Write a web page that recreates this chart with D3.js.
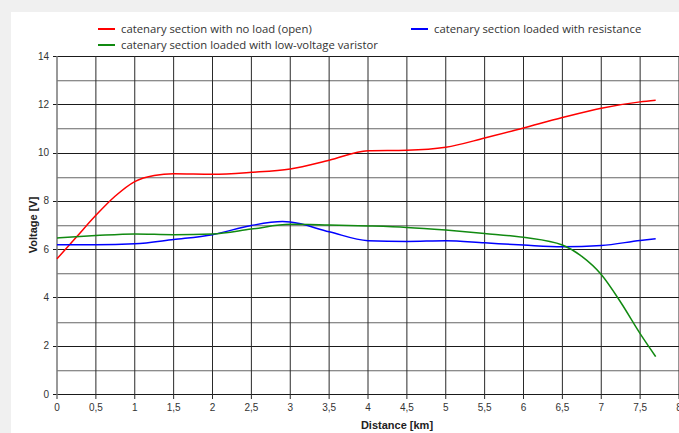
<!DOCTYPE html>
<html>
<head>
<meta charset="utf-8">
<script src="https://d3js.org/d3.v7.min.js"></script>
<style>
  body { margin: 0; background: #f0f0f0; }
  svg { display: block; }
</style>
</head>
<body>
<script>
// open catenary section (red)
var openDist = [0, 0.25, 0.5, 0.75, 1, 1.25, 1.5, 2, 2.5, 3, 3.5, 4, 4.5, 5, 5.5, 6, 6.5, 7, 7.5, 7.7];
var openVolt = [5.6, 6.5, 7.4, 8.2, 8.8, 9.05, 9.12, 9.1, 9.18, 9.32, 9.68, 10.08, 10.1, 10.22, 10.6, 11.02, 11.45, 11.84, 12.1, 12.17];

// loaded with resistance (blue)
var resDist = [0, 0.5, 1, 1.5, 2, 2.5, 2.9, 3, 3.5, 4, 4.5, 5, 5.5, 6, 6.5, 7, 7.5, 7.7];
var resVolt = [6.18, 6.18, 6.22, 6.4, 6.6, 6.98, 7.14, 7.12, 6.72, 6.35, 6.32, 6.35, 6.26, 6.17, 6.1, 6.15, 6.36, 6.43];

// loaded with low-voltage varistor (green)
var varDist = [0, 0.5, 1, 1.5, 2, 2.5, 3, 3.5, 4, 4.5, 5, 5.5, 6, 6.5, 6.75, 7, 7.25, 7.5, 7.7];
var varVolt = [6.46, 6.56, 6.63, 6.6, 6.63, 6.83, 7.03, 7.0, 6.96, 6.9, 6.79, 6.65, 6.49, 6.17, 5.7, 4.95, 3.8, 2.5, 1.55];

var xTicks = d3.range(0, 8.01, 0.5);
var yTicks = d3.range(0, 14.01, 1);

var series = [
  { name: "catenary section with no load (open)", color: "#ff0000", xs: openDist, ys: openVolt },
  { name: "catenary section loaded with resistance", color: "#0000ff", xs: resDist, ys: resVolt },
  { name: "catenary section loaded with low-voltage varistor", color: "#118a11", xs: varDist, ys: varVolt }
];

var width = 679, height = 433;
var svg = d3.select("body").append("svg").attr("width", width).attr("height", height);

// white panel
svg.append("rect").attr("x", 11).attr("y", 12).attr("width", width - 11).attr("height", height - 12).attr("fill", "#fff");

var x = d3.scaleLinear().domain([0, 8]).range([57, 679]);
var y = d3.scaleLinear().domain([0, 14]).range([394, 56]);

// horizontal grid
var hg = svg.append("g");
yTicks.forEach(function(v){
  var yy = Math.round(y(v)) + 0.5;
  if (v % 2 === 0) {
    hg.append("line").attr("x1", 53).attr("x2", width).attr("y1", yy).attr("y2", yy)
      .attr("stroke", "#1a1a1a").attr("stroke-width", 1);
  } else {
    hg.append("line").attr("x1", 57).attr("x2", width).attr("y1", yy).attr("y2", yy)
      .attr("stroke", "#8c8c8c").attr("stroke-width", 1);
    hg.append("line").attr("x1", 57).attr("x2", width).attr("y1", yy + 1).attr("y2", yy + 1)
      .attr("stroke", "#d8d8d8").attr("stroke-width", 1);
  }
});

// vertical grid
var vg = svg.append("g");
xTicks.forEach(function(v){
  vg.append("line").attr("x1", x(v)).attr("x2", x(v)).attr("y1", 56).attr("y2", 399)
    .attr("stroke", v === 0 ? "#777" : "#2a2a2a").attr("stroke-width", v === 0 ? 1.5 : 1);
});

// y tick labels
svg.append("g").selectAll("text").data(yTicks.filter(function(v){ return v % 2 === 0; }))
  .join("text")
  .attr("x", 49).attr("y", function(d){ return y(d) + 3.5; })
  .attr("text-anchor", "end")
  .attr("font-family", "Liberation Sans, Arial, sans-serif").attr("font-size", 10).attr("fill", "#333")
  .text(function(d){ return d; });

// x tick labels
var fmt = function(d){ return String(d).replace(".", ","); };
svg.append("g").selectAll("text").data(xTicks)
  .join("text")
  .attr("x", function(d){ return x(d); }).attr("y", 411)
  .attr("text-anchor", "middle")
  .attr("font-family", "Liberation Sans, Arial, sans-serif").attr("font-size", 10).attr("fill", "#333")
  .text(fmt);

// axis titles
svg.append("text").attr("x", 397).attr("y", 429).attr("text-anchor", "middle")
  .attr("font-family", "Liberation Sans, Arial, sans-serif").attr("font-size", 11).attr("font-weight", "bold").attr("fill", "#222")
  .text("Distance [km]");
svg.append("text").attr("transform", "translate(37,225) rotate(-90)").attr("text-anchor", "middle")
  .attr("font-family", "Liberation Sans, Arial, sans-serif").attr("font-size", 11).attr("font-weight", "bold").attr("fill", "#222")
  .text("Voltage [V]");

// lines
var line = d3.line().curve(d3.curveMonotoneX)
  .x(function(d){ return x(d[0]); }).y(function(d){ return y(d[1]); });
series.forEach(function(s){
  svg.append("path").datum(d3.zip(s.xs, s.ys))
    .attr("d", line).attr("fill", "none").attr("stroke", s.color).attr("stroke-width", 1.5);
});

// legend
var legendPos = [[98, 29], [411, 29], [98, 45]];
series.forEach(function(s, i){
  var p = legendPos[i];
  svg.append("line").attr("x1", p[0]).attr("x2", p[0] + 17).attr("y1", p[1]).attr("y2", p[1])
    .attr("stroke", s.color).attr("stroke-width", 2);
  svg.append("text").attr("x", p[0] + 23).attr("y", p[1] + 4)
    .attr("font-family", "Open Sans, sans-serif").attr("font-size", 11.3).attr("fill", "#333")
    .text(s.name);
});
</script>
</body>
</html>
